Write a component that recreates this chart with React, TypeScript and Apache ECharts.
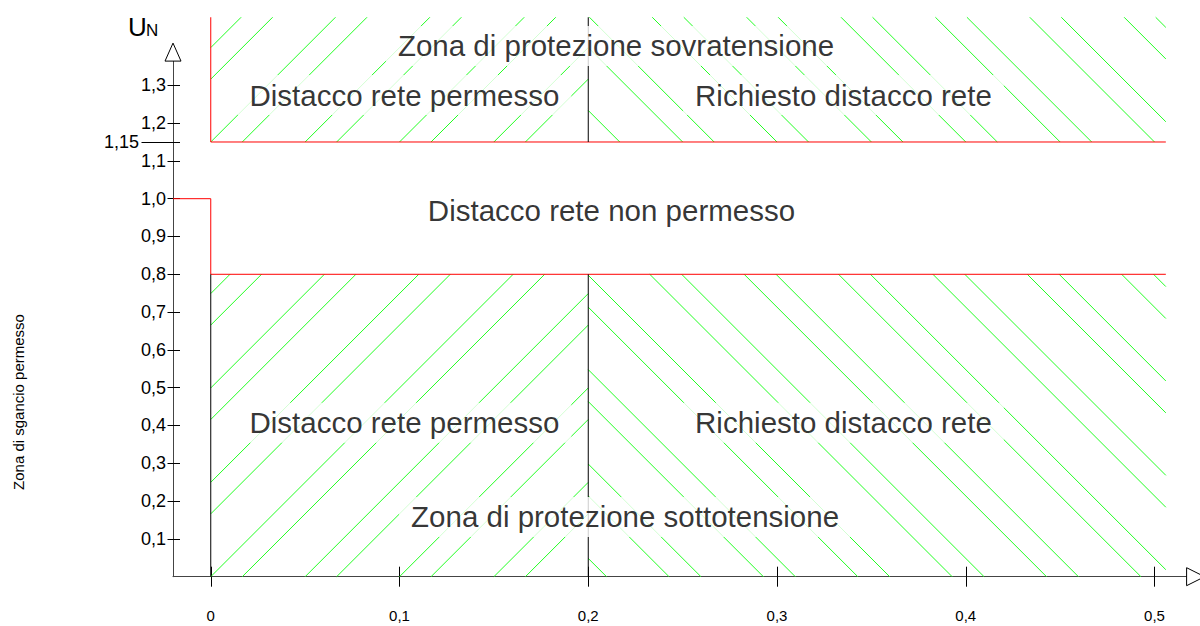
import React, { useEffect, useRef } from 'react';
import * as echarts from 'echarts';

const FONT = 'Liberation Sans, Arial, Helvetica, sans-serif';

// axis ranges and ticks
const xRange = [-0.02, 0.517];
const yRange = [0, 1.364];
const xTicks = [0, 0.1, 0.2, 0.3, 0.4, 0.5];
const yTicks = [0.1, 0.2, 0.3, 0.4, 0.5, 0.6, 0.7, 0.8, 0.9, 1.0, 1.1, 1.2, 1.3];
const yThreshold = [1.15];

// zone boundaries
const redUpper = [[0, 1.48], [0, 1.15], [0.506, 1.15]];
const redLower = [[-0.02, 1.0], [0, 1.0], [0, 0.8], [0.506, 0.8]];
const dividerUpper = [[0.2, 1.15], [0.2, 1.48]];
const dividerLower = [[0.2, 0], [0.2, 0.8]];
const leftLower = [[0, 0], [0, 0.8]];

// hatched zones: x0, x1, y0, y1, direction (1 = "/", -1 = "\"), phase A, phase B
const hatchZones = [
  [0, 0.2, 0, 0.8, 1, 0, 0.0167],
  [0.2, 0.506, 0, 0.8, -1, 0.0428, 0.0597],
  [0, 0.2, 1.15, 1.48, 1, 0, 0.0167],
  [0.2, 0.506, 1.15, 1.48, -1, 0, 0.0167],
];
const hatchPeriod = 0.05;

// zone labels: x, y, text
const zoneLabels = [
  [0.2147, 1.404, 'Zona di protezione sovratensione'],
  [0.1026, 1.274, 'Distacco rete permesso'],
  [0.3352, 1.274, 'Richiesto distacco rete'],
  [0.2123, 0.97, 'Distacco rete non permesso'],
  [0.1026, 0.407, 'Distacco rete permesso'],
  [0.3352, 0.407, 'Richiesto distacco rete'],
  [0.2195, 0.158, 'Zona di protezione sottotensione'],
];

const fmt = (v: number) => {
  if (Math.abs(v) < 1e-9) return '0';
  const r = Math.round(v * 100) / 100;
  const s = Math.abs(r * 10 - Math.round(r * 10)) < 1e-9 ? r.toFixed(1) : r.toFixed(2);
  return s.replace('.', ',');
};

function renderHatch(params: any, api: any) {
  const x0 = api.value(0), x1 = api.value(1), y0 = api.value(2), y1 = api.value(3);
  const dir = api.value(4);
  const bl = api.coord([x0, y0]);
  const tr = api.coord([x1, y1]);
  const origin = api.coord([0, 0])[0];
  const per = api.coord([hatchPeriod, 0])[0] - origin;
  const phases = [api.value(5), api.value(6)].map((p: number) => api.coord([p, 0])[0] - origin);
  const h = bl[1] - tr[1];
  const w = tr[0] - bl[0];
  const children: any[] = [];
  const nMin = -Math.ceil(h / per) - 2;
  const nMax = Math.ceil((w + h) / per) + 2;
  for (let n = nMin; n <= nMax; n++) {
    for (const ph of phases) {
      const xb = bl[0] + ph + n * per;
      let xs, xe, ys, ye;
      if (dir > 0) {
        xs = Math.max(bl[0], xb);
        xe = Math.min(tr[0], xb + h);
        if (xe <= xs) continue;
        ys = bl[1] - (xs - xb);
        ye = bl[1] - (xe - xb);
      } else {
        xs = Math.max(bl[0], xb - h);
        xe = Math.min(tr[0], xb);
        if (xe <= xs) continue;
        ys = bl[1] + (xs - xb);
        ye = bl[1] + (xe - xb);
      }
      children.push({
        type: 'line',
        shape: { x1: xs, y1: ys, x2: xe, y2: ye },
        style: { stroke: '#22ff22', lineWidth: 1, fill: null },
      });
    }
  }
  return { type: 'group', children };
}

const seg = (data: number[][], color: string) => ({
  type: 'line',
  data,
  symbol: 'none',
  clip: false,
  silent: true,
  z: 3,
  lineStyle: { color, width: 1 },
});

export default function App() {
  const ref = useRef<HTMLDivElement>(null);
  useEffect(() => {
    document.body.style.margin = '0';
    const chart = echarts.init(ref.current!, null, { renderer: 'svg' });
    const axisBase = {
      type: 'value',
      min: yRange[0],
      max: yRange[1],
      position: 'left',
      splitLine: { show: false },
    };
    chart.setOption({
      animation: false,
      grid: { left: 173, right: 13.4, top: 61.1, bottom: 49.3 },
      xAxis: [
        {
          type: 'value', min: xRange[0], max: xRange[1], position: 'bottom',
          splitLine: { show: false },
          axisLine: { show: true, onZero: false, lineStyle: { color: '#444', width: 1 } },
          axisTick: { show: true, inside: false, length: 10, customValues: xTicks, lineStyle: { color: '#000' } },
          axisLabel: { show: true, customValues: xTicks, formatter: fmt, margin: 31, fontSize: 15, color: '#000', fontFamily: FONT },
        },
        {
          type: 'value', min: xRange[0], max: xRange[1], position: 'bottom',
          splitLine: { show: false },
          axisLine: { show: false, onZero: false },
          axisTick: { show: true, inside: true, length: 10, customValues: xTicks, lineStyle: { color: '#000' } },
          axisLabel: { show: false },
        },
      ],
      yAxis: [
        {
          ...axisBase,
          axisLine: { show: true, onZero: false, lineStyle: { color: '#444', width: 1 } },
          axisTick: { show: true, inside: false, length: 5.5, customValues: yTicks, lineStyle: { color: '#000' } },
          axisLabel: { show: true, customValues: yTicks, formatter: fmt, margin: 7, fontSize: 18, color: '#000', fontFamily: FONT },
        },
        {
          ...axisBase,
          axisLine: { show: false, onZero: false },
          axisTick: { show: true, inside: true, length: 7, customValues: [...yTicks, ...yThreshold], lineStyle: { color: '#000' } },
          axisLabel: { show: false },
        },
        {
          ...axisBase,
          axisLine: { show: false, onZero: false },
          axisTick: { show: true, inside: false, length: 31.5, customValues: yThreshold, lineStyle: { color: '#000' } },
          axisLabel: { show: true, customValues: yThreshold, formatter: fmt, margin: 34, fontSize: 18, color: '#000', fontFamily: FONT },
        },
      ],
      series: [
        {
          type: 'custom',
          renderItem: renderHatch,
          data: hatchZones,
          encode: { x: [0, 1], y: [2, 3] },
          clip: false,
          silent: true,
          z: 1,
        },
        seg(redUpper, '#ff0000'),
        seg(redLower, '#ff0000'),
        seg(dividerUpper, '#000'),
        seg(dividerLower, '#000'),
        seg(leftLower, '#000'),
        {
          type: 'scatter',
          data: zoneLabels,
          symbolSize: 0,
          clip: false,
          silent: true,
          z: 5,
          label: {
            show: true,
            position: 'inside',
            formatter: (p: any) => p.data[2],
            fontSize: 29.5,
            color: '#000',
            fontFamily: FONT,
            backgroundColor: '#fff',
            padding: [5, 12],
          },
        },
      ],
    });

    const xEnd = chart.convertToPixel({ xAxisIndex: 0, yAxisIndex: 0 }, [xRange[1], 0]) as number[];
    const yEnd = chart.convertToPixel({ xAxisIndex: 0, yAxisIndex: 0 }, [xRange[0], yRange[1]]) as number[];
    chart.setOption({
      graphic: [
        {
          type: 'polygon',
          shape: { points: [[xEnd[0], xEnd[1] - 9], [xEnd[0] + 18, xEnd[1]], [xEnd[0], xEnd[1] + 9]] },
          style: { fill: '#fff', stroke: '#000', lineWidth: 1 },
          z: 10,
        },
        {
          type: 'polygon',
          shape: { points: [[yEnd[0] - 8, yEnd[1]], [yEnd[0], yEnd[1] - 18], [yEnd[0] + 8, yEnd[1]]] },
          style: { fill: '#fff', stroke: '#000', lineWidth: 1 },
          z: 10,
        },
        {
          type: 'text',
          x: 128, y: 27,
          style: { text: 'U', fontSize: 26, fontFamily: FONT, fill: '#000', verticalAlign: 'middle', align: 'left' },
        },
        {
          type: 'text',
          x: 146, y: 30,
          style: { text: 'N', fontSize: 17, fontFamily: FONT, fill: '#000', verticalAlign: 'middle', align: 'left' },
        },
        {
          type: 'text',
          x: 18, y: 402,
          rotation: Math.PI / 2,
          style: { text: 'Zona di sgancio permesso', fontSize: 15, fontFamily: FONT, fill: '#000', verticalAlign: 'middle', align: 'center' },
        },
      ],
    });
    return () => chart.dispose();
  }, []);
  return <div ref={ref} style={{ position: 'absolute', left: 0, top: 0, width: 1200, height: 626 }} />;
}
